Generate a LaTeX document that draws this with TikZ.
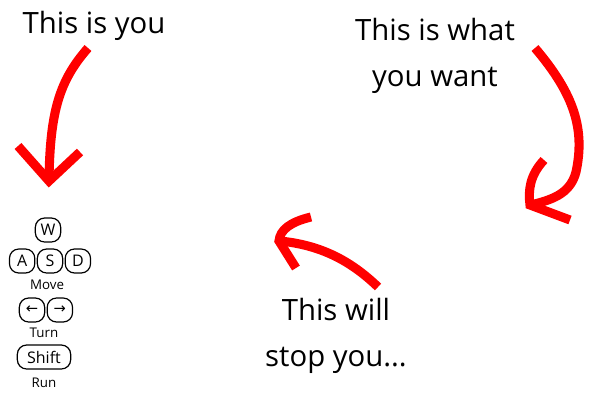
\documentclass[tikz,border=0pt]{standalone}
\usepackage{fontspec}
\setmainfont{Open Sans}
\newfontfamily\symfont{DejaVu Sans}
\usetikzlibrary{positioning}

\tikzset{every picture/.style={line width=0.75pt}}
\tikzset{
  bigarrow/.style={draw={rgb, 255:red, 255; green, 0; blue, 0 }, line width=6.8pt},
  keybox/.style={draw, rounded corners=7pt, line width=0.9pt, minimum width=19pt, minimum height=18pt, inner sep=1pt, font=\fontsize{12}{13}\selectfont},
  keylabel/.style={inner sep=0.75pt, font=\fontsize{10}{12}\selectfont},
  bigtext/.style={inner sep=0.75pt, align=center, font=\fontsize{22}{34}\selectfont}
}

\begin{document}
\begin{tikzpicture}[x=0.75pt,y=0.75pt,yscale=-1,xscale=1]
\useasboundingbox (0,0) rectangle (600,400);

%Curve Lines [id:youarrow]
\draw [bigarrow]   (88,48) .. controls (60,80) and (50,110) .. (49,180) ;
\draw [bigarrow]   (18,146) -- (49,181) -- (80,152) ;
%Curve Lines [id:wantarrow]
\draw [bigarrow]   (535,48) .. controls (575,95) and (585,130) .. (576,172) .. controls (570,195) and (550,200) .. (531,205) ;
\draw [bigarrow]   (544,160) .. controls (530,175) and (528,190) .. (530,205) -- (570,220) ;
%Curve Lines [id:stoparrow]
\draw [bigarrow]   (378,287) .. controls (350,260) and (320,245) .. (280,241) ;
\draw [bigarrow]   (311,217) .. controls (290,222) and (280,230) .. (279,241) -- (296,268) ;

% Text Node
\draw (94,26) node [bigtext] (you) {This is you};
% Text Node
\draw (435,56) node [bigtext] (want) {This is what\\you want};
% Text Node
\draw (336,336) node [bigtext] (stop) {This will\\stop you...};

% Keys
\node [keybox] (w) at (48,230) {W};
\node [keybox] (s) at (50,261) {S};
\node [keybox, left=1pt of s] (a) {A};
\node [keybox, right=1pt of s] (d) {D};
\node [keylabel] (move) at (47,285) {Move};
\node [keybox, font=\symfont\fontsize{11}{13}\selectfont] (left) at (32,310) {←};
\node [keybox, font=\symfont\fontsize{11}{13}\selectfont, right=1pt of left] (right) {→};
\node [keylabel] (turn) at (44,333) {Turn};
\node [keybox, minimum width=40pt] (shift) at (44,357) {Shift};
\node [keylabel] (run) at (44,383) {Run};

\end{tikzpicture}
\end{document}
